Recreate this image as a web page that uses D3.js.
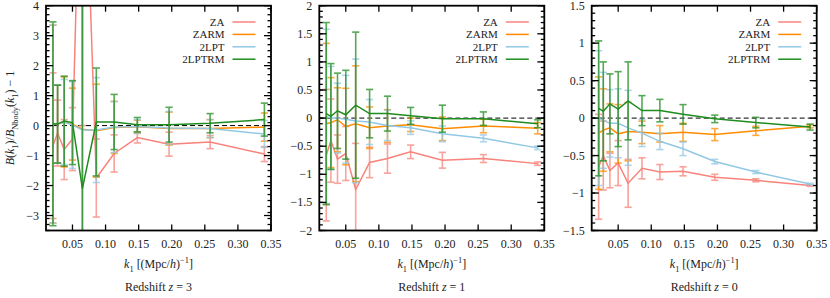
<!DOCTYPE html>
<html>
<head>
<meta charset="utf-8">
<script src="https://cdn.jsdelivr.net/npm/d3@7"></script>
<style>
  body { margin: 0; background: #fff; }
  svg text { font-family: "Liberation Serif", "Times New Roman", Times, "DejaVu Serif", serif; }
</style>
</head>
<body>
<script>
// k bins (Mpc/h)^-1
var kValues = [0.0205, 0.0275, 0.0375, 0.050, 0.065, 0.086, 0.113, 0.148, 0.196, 0.258, 0.340];

// redshift z = 3
var za_z3 = [-0.67, -0.25, -0.8, -0.45, 12, -1.75, -0.93, -0.4, -0.62, -0.55, -0.95];
var za_z3_err = [2.43, 1.1, 1.0, 1.05, 12, 1.3, 0.62, 0.18, 0.4, 0.22, 0.25];
var zarm_z3 = [0.05, 0.05, 0.12, 0.05, -0.12, -0.17, -0.06, -0.04, -0.1, -0.1, -0.05];
var zarm_z3_err = [3.3, 1.3, 1.5, 1.2, 7, 1.55, 0.87, 0.22, 0.55, 0.3, 0.47];
var lpt_z3 = [0.05, 0.05, 0.12, 0.02, -0.15, -0.15, -0.05, -0.03, -0.08, -0.1, -0.28];
var lpt_z3_err = [3.3, 1.3, 1.42, 1.45, 7, 1.75, 0.85, 0.23, 0.55, 0.3, 0.45];
var lptrm_z3 = [0.06, 0.05, 0.15, 0.1, -2.1, 0.12, 0.12, 0.03, 0.03, 0.08, 0.2];
var lptrm_z3_err = [3.4, 1.3, 1.5, 1.4, 7, 1.8, 0.92, 0.24, 0.58, 0.32, 0.55];

// redshift z = 1
var za_z1 = [-0.66, -0.4, -0.73, -0.63, -1.27, -0.79, -0.72, -0.6, -0.75, -0.72, -0.81];
var za_z1_err = [1.17, 0.74, 0.43, 0.48, 0.82, 0.27, 0.26, 0.12, 0.14, 0.07, 0.03];
var zarm_z1 = [-0.1, -0.08, -0.03, -0.15, -0.1, -0.17, -0.14, -0.12, -0.19, -0.14, -0.18];
var zarm_z1_err = [1.43, 0.8, 0.57, 0.68, 1.03, 0.37, 0.29, 0.12, 0.21, 0.12, 0.1];
var lpt_z1 = [0.03, 0.0, 0.0, -0.02, -0.05, -0.07, -0.13, -0.17, -0.28, -0.36, -0.53];
var lpt_z1_err = [1.55, 0.92, 0.62, 0.78, 1.1, 0.4, 0.27, 0.12, 0.14, 0.06, 0.03];
var lptrm_z1 = [0.08, 0.03, 0.13, 0.06, 0.23, 0.08, 0.08, 0.04, -0.01, -0.01, -0.1];
var lptrm_z1_err = [1.62, 0.94, 0.67, 0.79, 1.3, 0.43, 0.31, 0.15, 0.24, 0.12, 0.07];

// redshift z = 0
var za_z0 = [-0.65, -0.5, -0.7, -0.6, -0.87, -0.67, -0.72, -0.71, -0.79, -0.83, -0.9];
var za_z0_err = [0.7, 0.46, 0.23, 0.3, 0.32, 0.14, 0.1, 0.06, 0.04, 0.02, 0.01];
var zarm_z0 = [-0.2, -0.16, -0.13, -0.21, -0.18, -0.19, -0.21, -0.19, -0.22, -0.17, -0.11];
var zarm_z0_err = [0.75, 0.55, 0.32, 0.39, 0.39, 0.15, 0.11, 0.12, 0.08, 0.06, 0.02];
var lpt_z0 = [0.0, -0.03, -0.07, -0.07, -0.13, -0.2, -0.31, -0.41, -0.58, -0.72, -0.88];
var lpt_z0_err = [0.9, 0.64, 0.45, 0.46, 0.5, 0.18, 0.11, 0.09, 0.03, 0.02, 0.01];
var lptrm_z0 = [0.13, 0.09, 0.19, 0.12, 0.23, 0.1, 0.1, 0.05, -0.01, -0.06, -0.12];
var lptrm_z0_err = [0.9, 0.66, 0.4, 0.5, 0.52, 0.2, 0.15, 0.13, 0.05, 0.07, 0.04];

var seriesNames = ["ZA", "ZARM", "2LPT", "2LPTRM"];
var seriesColors = ["#f8837b", "#ff8c00", "#92c8e4", "#1e8c1e"];

var xTicks = [0.05, 0.10, 0.15, 0.20, 0.25, 0.30, 0.35];
var redshifts = ["3", "1", "0"];

var panels = [
  { yDomain: [-3.5, 4], yTicks: [-3, -2, -1, 0, 1, 2, 3, 4], minorStep: 0.2,
    values: [za_z3, zarm_z3, lpt_z3, lptrm_z3], errors: [za_z3_err, zarm_z3_err, lpt_z3_err, lptrm_z3_err] },
  { yDomain: [-2, 2], yTicks: [-2, -1.5, -1, -0.5, 0, 0.5, 1, 1.5, 2], minorStep: 0.1,
    values: [za_z1, zarm_z1, lpt_z1, lptrm_z1], errors: [za_z1_err, zarm_z1_err, lpt_z1_err, lptrm_z1_err] },
  { yDomain: [-1.5, 1.5], yTicks: [-1.5, -1, -0.5, 0, 0.5, 1, 1.5], minorStep: 0.1,
    values: [za_z0, zarm_z0, lpt_z0, lptrm_z0], errors: [za_z0_err, zarm_z0_err, lpt_z0_err, lptrm_z0_err] }
];

var svgWidth = 830;
var svgHeight = 298;
var panelLefts = [46, 319.3, 591.7];
var panelWidth = 225;
var plotTop = 5.7;
var plotBottom = 230.5;

var svg = d3.select("body").append("svg")
  .attr("width", svgWidth)
  .attr("height", svgHeight);

function fmt(v) {
  var s = String(Math.abs(v));
  return (v < 0 ? "\u2212" : "") + s;
}

// rich text: list of [text, italic, shift] where shift is "sub", "sup" or ""
function richText(el, parts, size) {
  var shift = 0;
  parts.forEach(function(p) {
    var target = p[2] == "sub" ? 3.5 : (p[2] == "sup" ? -5 : 0);
    var ts = el.append("tspan").text(p[0]).attr("dy", target - shift);
    if (p[1]) ts.attr("font-style", "italic");
    if (p[2]) ts.attr("font-size", size * 0.7);
    shift = target;
  });
}

panels.forEach(function(panel, pi) {
  var left = panelLefts[pi];
  var right = left + panelWidth;

  var xScale = d3.scaleLinear().domain([0.01, 0.35]).range([left, right]);
  var yScale = d3.scaleLinear().domain(panel.yDomain).range([plotBottom, plotTop]);

  var g = svg.append("g");

  g.append("clipPath").attr("id", "clip" + pi)
    .append("rect")
    .attr("x", left).attr("y", plotTop)
    .attr("width", panelWidth).attr("height", plotBottom - plotTop);

  var plot = g.append("g").attr("clip-path", "url(#clip" + pi + ")");

  // zero line
  plot.append("line")
    .attr("x1", left).attr("x2", right)
    .attr("y1", yScale(0)).attr("y2", yScale(0))
    .attr("stroke", "#000").attr("stroke-width", 1)
    .attr("stroke-dasharray", "5,3");

  var line = d3.line()
    .x(function(d) { return xScale(d[0]); })
    .y(function(d) { return yScale(d[1]); });

  panel.values.forEach(function(vals, si) {
    var color = seriesColors[si];
    var pts = kValues.map(function(k, i) { return [k, vals[i], panel.errors[si][i]]; });

    var eb = plot.append("g")
      .attr("stroke", color)
      .attr("stroke-width", 1.6)
      .attr("opacity", 0.75);

    pts.forEach(function(d) {
      var x = xScale(d[0]);
      var y0 = yScale(d[1] - d[2]);
      var y1 = yScale(d[1] + d[2]);
      eb.append("line").attr("x1", x).attr("x2", x).attr("y1", y0).attr("y2", y1);
      eb.append("line").attr("x1", x - 3.6).attr("x2", x + 3.6).attr("y1", y0).attr("y2", y0);
      eb.append("line").attr("x1", x - 3.6).attr("x2", x + 3.6).attr("y1", y1).attr("y2", y1);
    });

    plot.append("path")
      .datum(pts)
      .attr("d", line)
      .attr("fill", "none")
      .attr("stroke", color)
      .attr("stroke-width", 1.5);
  });

  // ticks: left / right axes
  var minors = d3.range(panel.yDomain[0], panel.yDomain[1] + 1e-9, panel.minorStep);
  var ticks = g.append("g").attr("stroke", "#000").attr("stroke-width", 1.3);
  minors.forEach(function(v) {
    var y = yScale(v);
    ticks.append("line").attr("x1", left).attr("x2", left + 3.5).attr("y1", y).attr("y2", y);
    ticks.append("line").attr("x1", right).attr("x2", right - 3.5).attr("y1", y).attr("y2", y);
  });
  panel.yTicks.forEach(function(v) {
    var y = yScale(v);
    ticks.append("line").attr("x1", left).attr("x2", left + 7).attr("y1", y).attr("y2", y);
    ticks.append("line").attr("x1", right).attr("x2", right - 7).attr("y1", y).attr("y2", y);
  });
  xTicks.forEach(function(v) {
    var x = xScale(v);
    ticks.append("line").attr("x1", x).attr("x2", x).attr("y1", plotBottom).attr("y2", plotBottom - 6);
    ticks.append("line").attr("x1", x).attr("x2", x).attr("y1", plotTop).attr("y2", plotTop + 6);
  });

  // frame
  g.append("rect")
    .attr("x", left).attr("y", plotTop)
    .attr("width", panelWidth).attr("height", plotBottom - plotTop)
    .attr("fill", "none").attr("stroke", "#000").attr("stroke-width", 1.8);

  // tick labels
  g.selectAll(".ylab").data(panel.yTicks).enter().append("text")
    .attr("x", left - 7)
    .attr("y", function(d) { return yScale(d) + 4; })
    .attr("text-anchor", "end")
    .attr("font-size", 12)
    .attr("fill", "#222")
    .text(fmt);

  g.selectAll(".xlab").data(xTicks).enter().append("text")
    .attr("x", function(d) { return xScale(d); })
    .attr("y", 248)
    .attr("text-anchor", "middle")
    .attr("font-size", 12)
    .attr("fill", "#222")
    .text(function(d) { return d.toFixed(2); });

  // x label and redshift title
  var xl = g.append("text")
    .attr("x", left + panelWidth / 2)
    .attr("y", 268)
    .attr("text-anchor", "middle")
    .attr("font-size", 12)
    .attr("fill", "#222");
  richText(xl, [["k", true, ""], ["1", false, "sub"], [" [(Mpc/", false, ""], ["h", true, ""], [")", false, ""], ["\u22121", false, "sup"], ["]", false, ""]], 12);

  var tl = g.append("text")
    .attr("x", left + panelWidth / 2)
    .attr("y", 291)
    .attr("text-anchor", "middle")
    .attr("font-size", 12)
    .attr("fill", "#222");
  richText(tl, [["Redshift ", false, ""], ["z", true, ""], [" = " + redshifts[pi], false, ""]], 12);

  // legend
  seriesNames.forEach(function(name, si) {
    var y = 22 + si * 12.4;
    g.append("text")
      .attr("x", right - 46.5)
      .attr("y", y + 4)
      .attr("text-anchor", "end")
      .attr("font-size", 11)
      .attr("fill", "#222")
      .text(name);
    g.append("line")
      .attr("x1", right - 38.5).attr("x2", right - 15.5)
      .attr("y1", y).attr("y2", y)
      .attr("stroke", seriesColors[si]).attr("stroke-width", 1.5);
  });
});

// y axis label
var yl = svg.append("text")
  .attr("transform", "translate(14,118) rotate(-90)")
  .attr("text-anchor", "middle")
  .attr("font-size", 12)
  .attr("fill", "#222");
richText(yl, [["B", true, ""], ["(", false, ""], ["k", true, ""], ["1", false, "sub"], [")/", false, ""],
  ["B", true, ""], ["Nbody", false, "sub"], ["(", false, ""], ["k", true, ""], ["1", false, "sub"],
  [") \u2212 1", false, ""]], 12);
</script>
</body>
</html>
